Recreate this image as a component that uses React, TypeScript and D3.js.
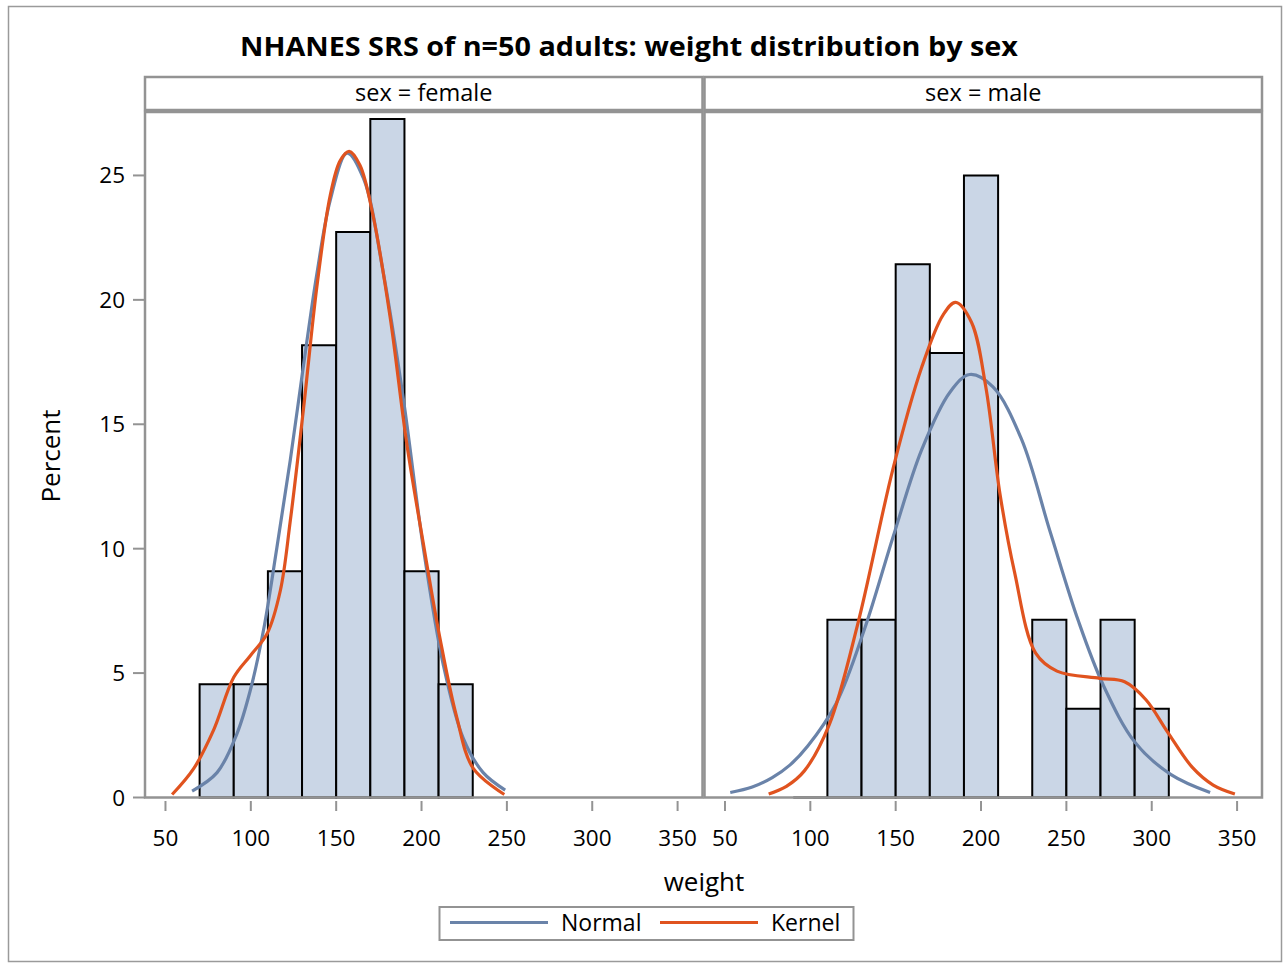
import React from "react";
import * as d3 from "d3";

const title = "NHANES SRS of n=50 adults: weight distribution by sex";
const panels = ["female", "male"];
const xTicks = [50, 100, 150, 200, 250, 300, 350];
const yTicks = [0, 5, 10, 15, 20, 25];

// Histogram bins (lower edge, upper edge, percent)
const femaleBins: [number, number, number][] = [
  [70, 90, 4.55], [90, 110, 4.55], [110, 130, 9.09], [130, 150, 18.18],
  [150, 170, 22.73], [170, 190, 27.27], [190, 210, 9.09], [210, 230, 4.55],
];
const maleBins: [number, number, number][] = [
  [90, 110, 0], [110, 130, 7.14], [130, 150, 7.14], [150, 170, 21.43],
  [170, 190, 17.86], [190, 210, 25.0], [210, 230, 0], [230, 250, 7.14],
  [250, 270, 3.57], [270, 290, 7.14], [290, 310, 3.57],
];

// Curves: [weight, percent]
const femaleNormal: [number, number][] = [
  [65.6, 0.26], [80.2, 1.0], [91.9, 2.57], [99.7, 4.31], [107.5, 6.75], [115.3, 10.06],
  [123.1, 13.55], [130.9, 17.39], [138.7, 21.05], [146.5, 24.0], [156.3, 25.9],
  [166, 24.88], [177.7, 21.05], [189.4, 16.0], [201, 10.06], [212.7, 5.35],
  [224.4, 2.39], [236.1, 1.0], [249, 0.3],
];
const femaleKernel: [number, number][] = [
  [53.9, 0.12], [66.6, 1.17], [78.3, 2.73], [90, 4.83], [99.7, 5.7], [109.5, 6.58],
  [117.3, 8.32], [123.1, 11.11], [130.9, 15.65], [138.7, 20.53], [146.5, 24.19],
  [152.3, 25.59], [157.6, 25.97], [164, 25.4], [171.8, 23.32], [181.6, 19.31],
  [191.3, 14.25], [201, 10.23], [210.8, 6.4], [220.5, 3.26], [230.3, 1.17], [248.5, 0.12],
];
const maleNormal: [number, number][] = [
  [53.1, 0.2], [66, 0.42], [77.7, 0.8], [88, 1.3], [98.5, 2.07], [115.2, 3.79], [131.9, 6.8], [148.6, 10.5],
  [165.2, 13.97], [181.9, 16.3], [193.4, 17.0], [207, 16.5], [223.7, 14.4],
  [240.4, 10.7], [257, 7.1], [271.7, 4.5], [290.4, 2.2], [311.3, 0.92], [334.2, 0.2],
];
const maleKernel: [number, number][] = [
  [75.6, 0.14], [86, 0.45], [96.5, 1.07], [111.1, 2.93], [127.7, 6.95], [148.6, 13.26], [165.2, 17.28],
  [177.8, 19.4], [185.1, 19.9], [194.4, 19.1], [202.8, 16.5], [211.1, 12.2], [219.5, 9.1],
  [232, 5.8], [244.5, 5.08], [269.5, 4.79], [284.1, 4.65], [296.6, 3.93], [309.2, 2.64],
  [323.8, 1.21], [336, 0.5], [348.7, 0.14],
];

const legendItems = ["Normal", "Kernel"];

const FONT = "'Open Sans', 'Noto Sans', sans-serif";
const BLUE = "#6A83A9";
const ORANGE = "#E0531F";
const FILL = "#CAD6E6";
const FRAME = "#939393";

export default function App() {
  const W = 1285, H = 964;
  const top = 112, bottom = 797.5;
  const panelX: [number, number][] = [[145, 702.5], [704.5, 1262]];
  const y = d3.scaleLinear().domain([0, 27.55]).range([bottom, top]);
  const data = [
    { bins: femaleBins, normal: femaleNormal, kernel: femaleKernel },
    { bins: maleBins, normal: maleNormal, kernel: maleKernel },
  ];

  return (
    <svg width={W} height={H} style={{ display: "block", position: "absolute", left: 0, top: 0 }}
      fontFamily={FONT}>
      <rect x={0} y={0} width={W} height={H} fill="#fff" />
      <rect x={8.5} y={6.5} width={1273} height={955} fill="none" stroke="#9a9a9a" strokeWidth={1.5} />
      <text x={629} y={56} textAnchor="middle" fontSize={27} fontWeight="bold" fill="#000"
        textLength={778} lengthAdjust="spacingAndGlyphs">{title}</text>

      {panels.map((p, i) => {
        const [x0, x1] = panelX[i];
        const x = d3.scaleLinear().domain([38.3, 364.3]).range([x0 + 0.5, x1 - 0.5]);
        const d = data[i];
        const line = d3.line<[number, number]>()
          .x((v) => x(v[0])).y((v) => y(v[1]))
          .curve(d3.curveCatmullRom.alpha(0.5));
        return (
          <g key={p}>
            {/* strip header */}
            <rect x={x0} y={77} width={x1 - x0} height={33} fill="#fff" stroke={FRAME} strokeWidth={2.5} />
            <text x={(x0 + x1) / 2} y={101} textAnchor="middle" fontSize={23.5} fill="#000">{`sex = ${p}`}</text>
            {/* bars */}
            {d.bins.map((b, j) => (
              <path key={j}
                d={`M${x(b[0])},${y(0)}V${y(b[2])}H${x(b[1])}V${y(0)}Z`}
                fill={FILL} stroke="#000" strokeWidth={2} />
            ))}
            <path d={line(d.normal) || ""} fill="none" stroke={BLUE} strokeWidth={3.2} />
            <path d={line(d.kernel) || ""} fill="none" stroke={ORANGE} strokeWidth={3.2} />
            {/* frame */}
            <rect x={x0} y={top} width={x1 - x0} height={bottom - top} fill="none" stroke={FRAME} strokeWidth={2.5} />
            {/* x ticks */}
            {xTicks.map((t) => (
              <g key={t}>
                <line x1={x(t)} x2={x(t)} y1={801} y2={811} stroke={FRAME} strokeWidth={2} />
                <text x={x(t)} y={846} textAnchor="middle" fontSize={22.5} fill="#000">{t}</text>
              </g>
            ))}
          </g>
        );
      })}

      {/* y axis */}
      {yTicks.map((t) => (
        <g key={t}>
          <line x1={133} x2={145} y1={y(t)} y2={y(t)} stroke={FRAME} strokeWidth={2} />
          <text x={125} y={y(t) + 8} textAnchor="end" fontSize={22.5} fill="#000">{t}</text>
        </g>
      ))}
      <text transform="translate(60,456) rotate(-90)" textAnchor="middle" fontSize={26} fill="#000">Percent</text>
      <text x={704} y={891} textAnchor="middle" fontSize={26} fill="#000">weight</text>

      {/* legend */}
      <rect x={439.5} y={907} width={414} height={33} fill="#fff" stroke={FRAME} strokeWidth={2} />
      {legendItems.map((it, i) => {
        const lx = 450 + i * 210;
        return (
          <g key={it}>
            <line x1={lx} x2={lx + 98} y1={922.5} y2={922.5} stroke={i === 0 ? BLUE : ORANGE} strokeWidth={3.2} />
            <text x={lx + 111} y={931} fontSize={23} fill="#000">{it}</text>
          </g>
        );
      })}
    </svg>
  );
}
